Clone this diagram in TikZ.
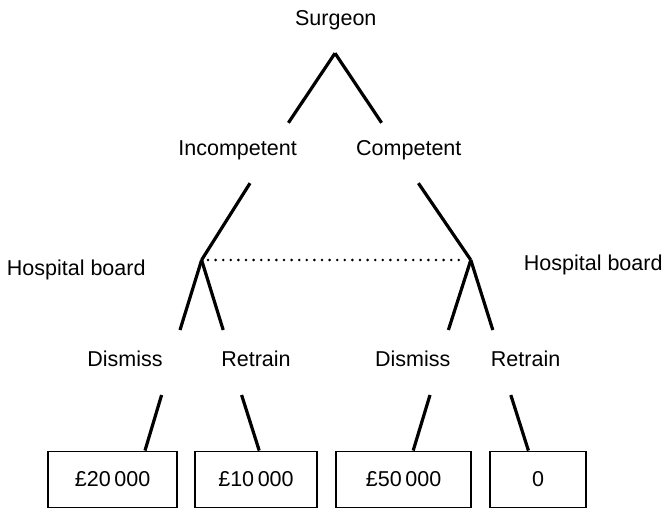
\documentclass[tikz,border=0pt]{standalone}
\usepackage{fontspec}
\setmainfont{Liberation Sans}
\usetikzlibrary{positioning}

\begin{document}
\begin{tikzpicture}[
            lbl/.style={font=\fontsize{15.3}{18}\selectfont,inner sep=0pt,text height=3.8mm,text depth=0mm},
            pay/.style={draw,line width=0.33mm,rectangle,minimum height=14mm,inner sep=0pt,font=\fontsize{15.3}{18}\selectfont},
            br/.style={line width=0.8mm},
            info/.style={line width=0.72mm,line cap=round,dash pattern=on 0pt off 1.9mm},
        ]

        \tikzset{
            node distance=30mm,
        }

        \useasboundingbox (0,0) rectangle (166mm,-127mm);

        % labels
        \node[lbl] (surgeon) at (83.95mm,-4.4mm) {Surgeon};
        \node[lbl,below of=surgeon,xshift=-24.55mm,yshift=-2.5mm] (incomp) {Incompetent};
        \node[lbl,right of=incomp,xshift=12.8mm] (comp) {Competent};
        \node[lbl,below of=incomp,xshift=-40.35mm] (boardL) {Hospital board};
        \node[lbl,below of=comp,xshift=46.1mm,yshift=1.1mm] (boardR) {Hospital board};
        \node[lbl,below of=boardL,xshift=12.2mm,yshift=7.1mm] (dismissL) {Dismiss};
        \node[lbl,right of=dismissL,xshift=2.75mm] (retrainL) {Retrain};
        \node[lbl,right of=retrainL,xshift=9.2mm] (dismissR) {Dismiss};
        \node[lbl,right of=dismissR,xshift=-1.8mm] (retrainR) {Retrain};

        % payoffs
        \node[pay,minimum width=32.25mm,below of=dismissL,xshift=-3.1mm] (pay1) {£20\,000};
        \node[pay,minimum width=30.5mm,below of=retrainL] (pay2) {£10\,000};
        \node[pay,minimum width=33.75mm,below of=dismissR,xshift=-2.3mm] (pay3) {£50\,000};
        \node[pay,minimum width=24mm,below of=retrainR,xshift=3.1mm] (pay4) {0};

        % tree points
        \coordinate (root) at (83.75mm,-13.3mm);
        \coordinate (rootL) at (72.1mm,-30.7mm);
        \coordinate (rootR) at (95.4mm,-30.7mm);
        \coordinate (upL) at (62.5mm,-45.8mm);
        \coordinate (upR) at (104.6mm,-45.8mm);
        \coordinate (forkL) at (50.4mm,-65mm);
        \coordinate (forkR) at (117.7mm,-65mm);
        \coordinate (m1) at (45mm,-82.5mm);
        \coordinate (m2) at (55.8mm,-82.5mm);
        \coordinate (m3) at (112.1mm,-82.5mm);
        \coordinate (m4) at (123.2mm,-82.5mm);
        \coordinate (t1) at (40.4mm,-98.75mm);
        \coordinate (t2) at (60.4mm,-98.75mm);
        \coordinate (t3) at (107.5mm,-98.75mm);
        \coordinate (t4) at (127.7mm,-98.75mm);

        \draw[br]
            (root) edge (rootL)
            (root) edge (rootR)
            (upL) edge (forkL)
            (upR) edge (forkR)
            (forkL) edge (m1)
            (forkL) edge (m2)
            (forkR) edge (m3)
            (forkR) edge (m4)
            (t1) edge ([xshift=8.1mm]pay1.north)
            (t2) edge ([xshift=0.8mm]pay2.north)
            (t3) edge ([xshift=2.4mm]pay3.north)
            (t4) edge ([xshift=-2.4mm]pay4.north)
        ;
        \draw[info,shorten <=1.6mm,shorten >=1.6mm] (forkL) -- (forkR);

\end{tikzpicture}
\end{document}
